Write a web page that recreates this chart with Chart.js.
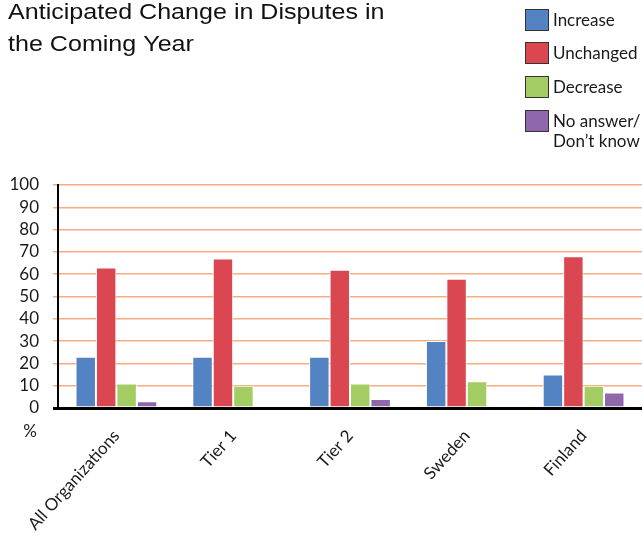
<!DOCTYPE html>
<html>
<head>
<meta charset="utf-8">
<script src="https://cdn.jsdelivr.net/npm/chart.js@4.4.1/dist/chart.umd.min.js"></script>
<style>
  html, body { margin: 0; padding: 0; background: #fff; }
  #wrap { width: 642px; height: 538px; }
</style>
</head>
<body>
<div id="wrap"><canvas id="c" width="642" height="538"></canvas></div>
<script>
// Survey results: anticipated change in disputes, percent of respondents
const categories = ['All Organizations', 'Tier 1', 'Tier 2', 'Sweden', 'Finland'];
const seriesNames = ['Increase', 'Unchanged', 'Decrease', 'No answer/\nDon\u2019t know'];
const increase  = [23, 23, 23, 30, 15];
const unchanged = [63, 67, 62, 58, 68];
const decrease  = [11, 10, 11, 12, 10];
const noAnswer  = [3, null, 4, null, 7];
const yTicks = [0, 10, 20, 30, 40, 50, 60, 70, 80, 90, 100];
const titleLines = ['Anticipated Change in Disputes in', 'the Coming Year'];
const unitLabel = '%';

const colors = ['#5383C3', '#DA4751', '#A3CD62', '#8F67AB'];
const seriesValues = [increase, unchanged, decrease, noAnswer];
const GRID = 'rgba(244,164,118,0.9)';
const TEXT = '#1a1a1a';
const LABEL_FONT = 'Lato, "Open Sans", sans-serif';

// Title, legend and unit label drawn on the canvas around the plot
const decorations = {
  id: 'decorations',
  afterDraw(chart) {
    const ctx = chart.ctx;
    ctx.save();
    // title (slightly wide lettering)
    ctx.fillStyle = '#111';
    ctx.font = '22px "Liberation Sans", Arial, sans-serif';
    ctx.textBaseline = 'alphabetic';
    ctx.textAlign = 'left';
    const baselines = [19, 51];
    titleLines.forEach((t, i) => {
      ctx.save();
      ctx.translate(8, baselines[i]);
      ctx.scale(1.14, 1);
      ctx.fillText(t, 0, 0);
      ctx.restore();
    });

    // legend
    const tops = [9, 42, 76, 110];
    ctx.font = '17px ' + LABEL_FONT;
    chart.data.datasets.forEach((ds, i) => {
      const y = tops[i];
      ctx.fillStyle = ds.backgroundColor;
      ctx.fillRect(525, y, 24, 22);
      ctx.strokeStyle = '#333';
      ctx.lineWidth = 1;
      ctx.strokeRect(525.5, y + 0.5, 23, 21);
      ctx.fillStyle = TEXT;
      ds.label.split('\n').forEach((line, j) => {
        ctx.fillText(line, 553, y + 17 + j * 20);
      });
    });

    // unit label under the value axis
    ctx.font = '17px ' + LABEL_FONT;
    ctx.textAlign = 'center';
    ctx.textBaseline = 'middle';
    ctx.fillText(unitLabel, 30, 432);
    ctx.restore();
  }
};

new Chart(document.getElementById('c'), {
  type: 'bar',
  data: {
    labels: categories,
    datasets: seriesNames.map((name, i) => ({
      label: name,
      data: seriesValues[i],
      backgroundColor: colors[i],
      borderColor: '#ffffff',
      borderWidth: 1,
      barPercentage: 1.0,
      categoryPercentage: 0.7
    }))
  },
  options: {
    responsive: false,
    animation: false,
    devicePixelRatio: 1,
    layout: { padding: { top: 185, left: 0, right: 0, bottom: 0 } },
    plugins: {
      legend: { display: false },
      title: { display: false },
      tooltip: { enabled: false }
    },
    scales: {
      x: {
        grid: { display: false, drawTicks: false },
        border: { display: true, color: '#000', width: 3 },
        ticks: {
          color: TEXT,
          font: { family: LABEL_FONT, size: 17 },
          autoSkip: false,
          minRotation: 48,
          maxRotation: 48,
          padding: 18
        },
        afterFit(scale) { scale.height = 130; }
      },
      y: {
        min: 0,
        max: 100,
        afterBuildTicks(scale) { scale.ticks = yTicks.map(v => ({ value: v })); },
        grid: {
          color: ctx => ctx.tick && ctx.tick.value === 0 ? '#000' : GRID,
          lineWidth: ctx => ctx.tick && ctx.tick.value === 0 ? 3 : 1.5,
          tickLength: 5
        },
        border: { display: true, color: '#000', width: 2 },
        ticks: {
          color: TEXT,
          autoSkip: false,
          padding: 14,
          font: { family: LABEL_FONT, size: 17 }
        },
        afterFit(scale) { scale.width = 58; }
      }
    }
  },
  plugins: [decorations]
});
</script>
</body>
</html>
